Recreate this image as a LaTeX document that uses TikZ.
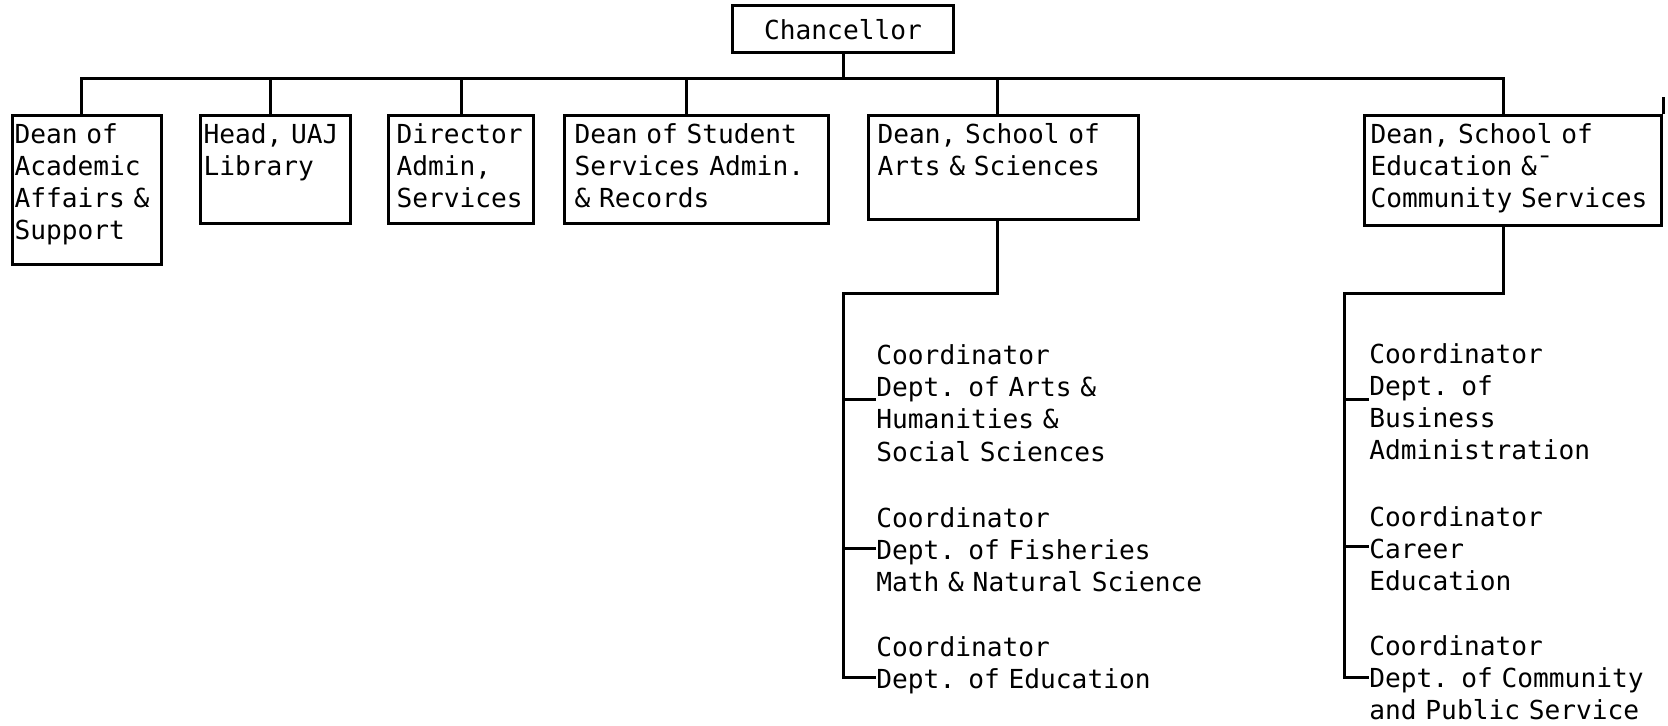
\documentclass[tikz,border=0pt]{standalone}
\usepackage{fontspec}
\setmainfont{DejaVu Sans Mono}

\begin{document}
\begin{tikzpicture}[
    x=0.5pt, y=-0.5pt,
    every node/.style={font=\fontsize{13.1}{16}\selectfont},
    box/.style={rectangle, draw, line width=1.5pt, anchor=north west, align=left, inner ysep=0pt, text height=14pt},
    unit/.style={anchor=base west, align=left, inner sep=0pt, text width=200pt},
    line/.style={line width=1.5pt}
]
\useasboundingbox (0,0) rectangle (1668,726);

% Nodos
\node[rectangle, draw, line width=1.5pt, minimum width=110.5pt, minimum height=23.5pt] (chan) at (843,29.5) {Chancellor};
\node[box, inner xsep=1pt, text width=72.5pt, text depth=60.5pt] (acad) at (11,114) {Dean of\\Academic\\Affairs \&\\Support};
\node[box, inner xsep=1.5pt, text width=72pt, text depth=40pt] (lib) at (199,114) {Head, UAJ\\Library};
\node[box, inner xsep=4pt, text width=64.5pt, text depth=40pt] (admin) at (387,114) {Director\\Admin,\\Services};
\node[box, inner xsep=5pt, text width=122pt, text depth=40pt] (stud) at (563,114) {Dean of Student\\Services Admin.\\\& Records};
\node[box, inner xsep=4.5pt, text width=126pt, text depth=38pt] (arts) at (867,114) {Dean, School of\\Arts \& Sciences};
\node[box, inner xsep=3pt, text width=142.5pt, text depth=41pt] (edu) at (1363,114) {Dean, School of\\Education \&¯\\Community Services};

\node[unit] (artsA) at (876,365) {Coordinator\\Dept. of Arts \&\\Humanities \&\\Social Sciences};
\node[unit] (artsB) at (876,527) {Coordinator\\Dept. of Fisheries\\Math \& Natural Science};
\node[unit] (artsC) at (876,656) {Coordinator\\Dept. of Education};
\node[unit] (eduA) at (1369,364) {Coordinator\\Dept. of\\Business\\Administration};
\node[unit] (eduB) at (1369,526) {Coordinator\\Career\\Education};
\node[unit] (eduC) at (1369,655) {Coordinator\\Dept. of Community\\and Public Service};

% Lineas
\coordinate (bus) at (843,79);
\draw[line] (chan.south) -- (bus);
\draw[line] ([xshift=-2.7pt]acad.north) |- (bus) -| ([xshift=-4.8pt]edu.north);
\foreach \n/\dx in {lib/-2.7pt, admin/0pt, stud/-4.8pt, arts/-3.2pt}
    \draw[line] ([xshift=\dx]\n.north) -- ([xshift=\dx]\n.north |- bus);
\draw[line] (edu.north east) -- ++(0,-17);

\coordinate (artsTurn) at (843,294);
\coordinate (artsT1) at (843,400);
\coordinate (artsT2) at (843,548);
\coordinate (artsEnd) at (843,677);
\draw[line] ([xshift=-3.2pt]arts.south) |- (artsTurn) -- (artsEnd) -- (artsEnd -| artsC.west);
\draw[line] (artsT1) -- (artsT1 -| artsA.west);
\draw[line] (artsT2) -- (artsT2 -| artsB.west);

\coordinate (eduTurn) at (1344,294);
\coordinate (eduT1) at (1344,400);
\coordinate (eduT2) at (1344,546);
\coordinate (eduEnd) at (1344,677);
\draw[line] ([xshift=-4.8pt]edu.south) |- (eduTurn) -- (eduEnd) -- (eduEnd -| eduC.west);
\draw[line] (eduT1) -- (eduT1 -| eduA.west);
\draw[line] (eduT2) -- (eduT2 -| eduB.west);

\end{tikzpicture}
\end{document}
